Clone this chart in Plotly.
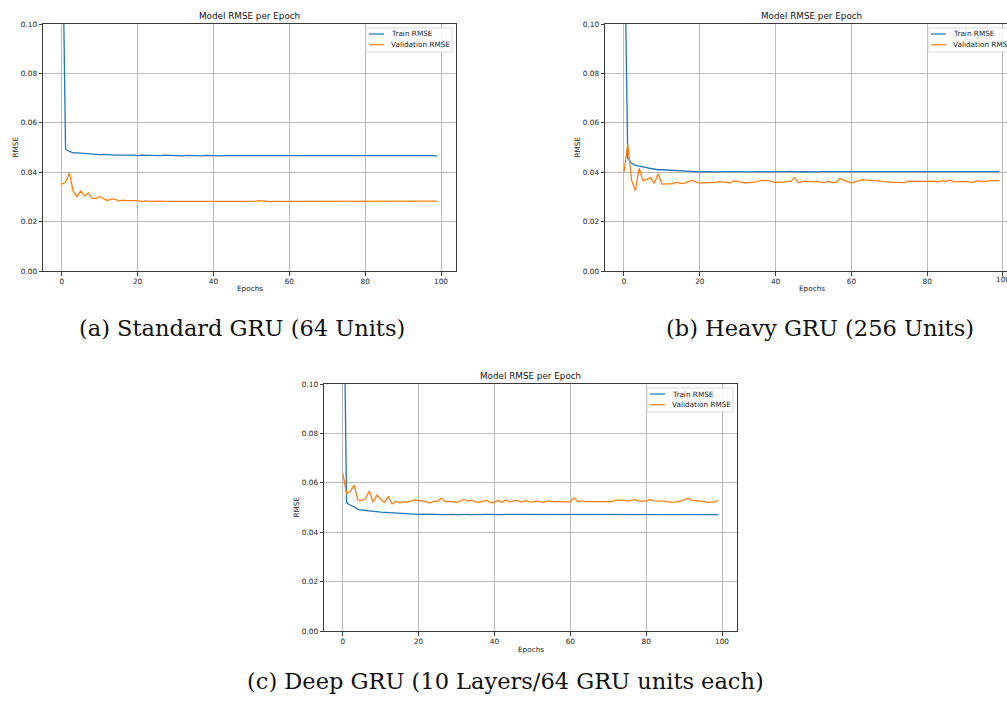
import plotly.graph_objects as go

epochs = list(range(100))

# ---- (a) Standard GRU (64 Units) ----
train_a = [0.160, 0.0493, 0.0484, 0.0478, 0.0478, 0.0477, 0.0474, 0.0473, 0.0471, 0.0473,
           0.0471, 0.0472, 0.0470, 0.0471, 0.0469, 0.0469, 0.0470, 0.0468, 0.0469, 0.0469,
           0.0467, 0.0469, 0.0468, 0.0469, 0.0467, 0.0466, 0.0467, 0.0469, 0.0468, 0.0468,
           0.0467, 0.0468, 0.0466, 0.0468, 0.0467, 0.0468, 0.0467, 0.0466, 0.0468, 0.0467,
           0.0468, 0.0467, 0.0466, 0.0467, 0.0467, 0.0468, 0.0466, 0.0467, 0.0468, 0.0466,
           0.0467, 0.0467, 0.0466, 0.0467, 0.0468, 0.0467, 0.0466, 0.0467, 0.0468, 0.0467,
           0.0466, 0.0467, 0.0468, 0.0467, 0.0467, 0.0466, 0.0467, 0.0467, 0.0466, 0.0467,
           0.0468, 0.0467, 0.0467, 0.0466, 0.0467, 0.0469, 0.0467, 0.0466, 0.0467, 0.0467,
           0.0467, 0.0466, 0.0467, 0.0467, 0.0466, 0.0467, 0.0467, 0.0466, 0.0467, 0.0467,
           0.0466, 0.0467, 0.0467, 0.0466, 0.0467, 0.0467, 0.0466, 0.0467, 0.0467, 0.0465]
val_a = [0.0352, 0.0359, 0.0398, 0.0324, 0.0301, 0.0324, 0.0303, 0.0316, 0.0294, 0.0294,
         0.0302, 0.0293, 0.0285, 0.0291, 0.0291, 0.0283, 0.0287, 0.0285, 0.0286, 0.0285,
         0.0285, 0.0281, 0.0284, 0.0282, 0.0283, 0.0282, 0.0283, 0.0282, 0.0282, 0.0281,
         0.0282, 0.0282, 0.0283, 0.0281, 0.0282, 0.0282, 0.0282, 0.0282, 0.0283, 0.0283,
         0.0284, 0.0282, 0.0283, 0.0282, 0.0283, 0.0281, 0.0282, 0.0282, 0.0281, 0.0281,
         0.0283, 0.0282, 0.0285, 0.0283, 0.0282, 0.0281, 0.0282, 0.0282, 0.0283, 0.0284,
         0.0284, 0.0283, 0.0282, 0.0282, 0.0281, 0.0282, 0.0282, 0.0282, 0.0283, 0.0282,
         0.0282, 0.0283, 0.0282, 0.0282, 0.0282, 0.0283, 0.0282, 0.0282, 0.0282, 0.0282,
         0.0282, 0.0282, 0.0283, 0.0282, 0.0282, 0.0282, 0.0282, 0.0282, 0.0281, 0.0282,
         0.0282, 0.0282, 0.0283, 0.0284, 0.0282, 0.0282, 0.0282, 0.0282, 0.0282, 0.0283]

# ---- (b) Heavy GRU (256 Units) ----
train_b = [0.150, 0.0457, 0.0436, 0.0428, 0.0425, 0.0423, 0.0419, 0.0415, 0.0412, 0.0410,
           0.0410, 0.0409, 0.0407, 0.0406, 0.0405, 0.0404, 0.0405, 0.0403, 0.0402, 0.0402,
           0.0401, 0.0402, 0.0401, 0.0402, 0.0402, 0.0401, 0.0402, 0.0401, 0.0403, 0.0402,
           0.0402, 0.0401, 0.0401, 0.0402, 0.0401, 0.0402, 0.0403, 0.0402, 0.0401, 0.0403,
           0.0402, 0.0402, 0.0401, 0.0402, 0.0403, 0.0401, 0.0401, 0.0402, 0.0401, 0.0402,
           0.0402, 0.0401, 0.0402, 0.0402, 0.0404, 0.0402, 0.0401, 0.0402, 0.0402, 0.0401,
           0.0402, 0.0402, 0.0401, 0.0402, 0.0402, 0.0401, 0.0402, 0.0402, 0.0401, 0.0402,
           0.0403, 0.0402, 0.0402, 0.0401, 0.0402, 0.0402, 0.0401, 0.0402, 0.0404, 0.0402,
           0.0402, 0.0403, 0.0402, 0.0401, 0.0402, 0.0402, 0.0401, 0.0402, 0.0402, 0.0401,
           0.0402, 0.0401, 0.0401, 0.0402, 0.0403, 0.0401, 0.0402, 0.0401, 0.0402, 0.0402]
val_b = [0.0400, 0.0514, 0.0368, 0.0325, 0.0416, 0.0366, 0.0371, 0.0379, 0.0355, 0.0394,
         0.0352, 0.0353, 0.0355, 0.0354, 0.0360, 0.0354, 0.0356, 0.0363, 0.0368, 0.0360,
         0.0356, 0.0357, 0.0357, 0.0360, 0.0359, 0.0362, 0.0362, 0.0359, 0.0357, 0.0365,
         0.0363, 0.0358, 0.0356, 0.0358, 0.0359, 0.0361, 0.0366, 0.0366, 0.0367, 0.0362,
         0.0358, 0.0361, 0.0359, 0.0363, 0.0363, 0.0378, 0.0357, 0.0362, 0.0364, 0.0362,
         0.0363, 0.0362, 0.0360, 0.0358, 0.0364, 0.0358, 0.0360, 0.0374, 0.0368, 0.0362,
         0.0356, 0.0362, 0.0366, 0.0370, 0.0368, 0.0366, 0.0364, 0.0365, 0.0363, 0.0361,
         0.0358, 0.0359, 0.0359, 0.0360, 0.0358, 0.0364, 0.0363, 0.0363, 0.0364, 0.0363,
         0.0363, 0.0365, 0.0364, 0.0361, 0.0366, 0.0363, 0.0369, 0.0361, 0.0362, 0.0365,
         0.0363, 0.0361, 0.0359, 0.0365, 0.0363, 0.0362, 0.0365, 0.0365, 0.0364, 0.0366]

# ---- (c) Deep GRU (10 Layers/64 GRU units each) ----
train_c = [0.175, 0.0519, 0.0509, 0.0504, 0.0491, 0.0489, 0.0488, 0.0486, 0.0484, 0.0483,
           0.0481, 0.0480, 0.0479, 0.0479, 0.0478, 0.0477, 0.0477, 0.0476, 0.0474, 0.0473,
           0.0472, 0.0473, 0.0472, 0.0472, 0.0473, 0.0472, 0.0471, 0.0472, 0.0471, 0.0472,
           0.0471, 0.0472, 0.0471, 0.0472, 0.0471, 0.0472, 0.0471, 0.0471, 0.0472, 0.0472,
           0.0471, 0.0472, 0.0471, 0.0472, 0.0472, 0.0471, 0.0472, 0.0471, 0.0471, 0.0472,
           0.0472, 0.0471, 0.0472, 0.0471, 0.0471, 0.0472, 0.0472, 0.0471, 0.0472, 0.0471,
           0.0472, 0.0472, 0.0471, 0.0472, 0.0472, 0.0471, 0.0472, 0.0474, 0.0472, 0.0471,
           0.0472, 0.0472, 0.0474, 0.0472, 0.0471, 0.0472, 0.0472, 0.0474, 0.0472, 0.0471,
           0.0472, 0.0471, 0.0472, 0.0472, 0.0471, 0.0472, 0.0471, 0.0472, 0.0472, 0.0471,
           0.0472, 0.0472, 0.0471, 0.0472, 0.0471, 0.0472, 0.0473, 0.0471, 0.0472, 0.0471]
val_c = [0.0638, 0.0557, 0.0566, 0.0590, 0.0530, 0.0528, 0.0536, 0.0567, 0.0521, 0.0550,
         0.0534, 0.0520, 0.0545, 0.0514, 0.0525, 0.0519, 0.0524, 0.0522, 0.0526, 0.0532,
         0.0527, 0.0528, 0.0523, 0.0518, 0.0526, 0.0525, 0.0537, 0.0524, 0.0524, 0.0524,
         0.0520, 0.0527, 0.0533, 0.0526, 0.0530, 0.0523, 0.0521, 0.0526, 0.0529, 0.0520,
         0.0520, 0.0529, 0.0521, 0.0530, 0.0523, 0.0527, 0.0529, 0.0522, 0.0528, 0.0524,
         0.0522, 0.0526, 0.0525, 0.0521, 0.0527, 0.0525, 0.0523, 0.0525, 0.0522, 0.0522,
         0.0524, 0.0539, 0.0523, 0.0527, 0.0524, 0.0524, 0.0526, 0.0527, 0.0525, 0.0524,
         0.0526, 0.0524, 0.0530, 0.0530, 0.0530, 0.0526, 0.0529, 0.0532, 0.0527, 0.0525,
         0.0527, 0.0532, 0.0527, 0.0527, 0.0527, 0.0526, 0.0522, 0.0521, 0.0523, 0.0526,
         0.0530, 0.0537, 0.0529, 0.0528, 0.0529, 0.0525, 0.0521, 0.0523, 0.0523, 0.0529]

series_names = ["Train RMSE", "Validation RMSE"]
chart_title = "Model RMSE per Epoch"
x_label = "Epochs"
y_label = "RMSE"
captions = ["(a) Standard GRU (64 Units)", "(b) Heavy GRU (256 Units)",
            "(c) Deep GRU (10 Layers/64 GRU units each)"]
x_ticks = [0, 20, 40, 60, 80, 100]
y_ticks = [0.00, 0.02, 0.04, 0.06, 0.08, 0.10]

BLUE = "#1f77b4"
ORANGE = "#ff7f0e"
W, H = 1007, 701


def px(x):
    return x / W


def py(y):
    return 1 - y / H


# panel geometry in pixels: left, right(visible), top, bottom, x-range, full right (for legend)
panels = [
    dict(l=43, r=456, t=24, b=271, xr=[-4.95, 103.95], fullr=456, mirror_y=True,
         cap_x=242, cap_y=328, data=(train_a, val_a)),
    dict(l=605, r=1007, t=24, b=271, xr=[-5.01, 101.06], fullr=1018, mirror_y=False,
         cap_x=820, cap_y=328, data=(train_b, val_b)),
    dict(l=324, r=737, t=384, b=631, xr=[-4.95, 103.95], fullr=737, mirror_y=True,
         cap_x=505, cap_y=681, data=(train_c, val_c)),
]

fig = go.Figure()
annotations = []
shapes = []
TICKF = dict(family="DejaVu Sans", size=7.3, color="#222")
SPINE = "#3a3a3a"

for i, p in enumerate(panels):
    n = "" if i == 0 else str(i + 1)
    tr, va = p["data"]
    fig.add_trace(go.Scatter(x=epochs, y=tr, mode="lines", name=series_names[0],
                             line=dict(color=BLUE, width=1.3), showlegend=False,
                             xaxis="x" + n, yaxis="y" + n))
    fig.add_trace(go.Scatter(x=epochs, y=va, mode="lines", name=series_names[1],
                             line=dict(color=ORANGE, width=1.3), showlegend=False,
                             xaxis="x" + n, yaxis="y" + n))
    xa = dict(domain=[px(p["l"]), min(1.0, px(p["r"]))], range=p["xr"], anchor="y" + n,
              tickvals=x_ticks, ticktext=[str(v) for v in x_ticks],
              showgrid=True, gridcolor="#b9b9b9", gridwidth=0.7, zeroline=False,
              showline=True, linecolor=SPINE, linewidth=1, mirror=True,
              ticks="outside", ticklen=3.5, tickwidth=0.8, tickcolor=SPINE,
              tickfont=TICKF, fixedrange=True)
    ya = dict(domain=[py(p["b"]), py(p["t"])], range=[0, 0.1], anchor="x" + n,
              tickvals=y_ticks, ticktext=["%.2f" % v for v in y_ticks],
              showgrid=True, gridcolor="#b9b9b9", gridwidth=0.7, zeroline=False,
              showline=True, linecolor=SPINE, linewidth=1, mirror=p["mirror_y"],
              ticks="outside", ticklen=3.5, tickwidth=0.8, tickcolor=SPINE,
              tickfont=TICKF, fixedrange=True)
    fig.update_layout(**{"xaxis" + n: xa, "yaxis" + n: ya})

    cx = (p["l"] + p["fullr"]) / 2
    cy = (p["t"] + p["b"]) / 2
    # title
    annotations.append(dict(x=px(cx), y=py(p["t"] - 8), xref="paper", yref="paper",
                            text=chart_title, showarrow=False, xanchor="center",
                            yanchor="middle", font=dict(family="DejaVu Sans", size=8.8,
                                                        color="#111")))
    # x label
    annotations.append(dict(x=px(cx), y=py(p["b"] + 18), xref="paper", yref="paper",
                            text=x_label, showarrow=False, xanchor="center",
                            yanchor="middle", font=dict(family="DejaVu Sans", size=7.3,
                                                        color="#222")))
    # y label
    annotations.append(dict(x=px(p["l"] - 28), y=py(cy), xref="paper", yref="paper",
                            text=y_label, showarrow=False, textangle=-90,
                            xanchor="center", yanchor="middle",
                            font=dict(family="DejaVu Sans", size=7.3, color="#222")))
    # caption
    annotations.append(dict(x=px(p["cap_x"]), y=py(p["cap_y"]), xref="paper", yref="paper",
                            text=captions[i], showarrow=False, xanchor="center",
                            yanchor="middle", font=dict(family="DejaVu Serif", size=22.5,
                                                        color="#111")))
    # legend box (matplotlib style)
    lr = p["fullr"] - 4
    ll = lr - 86
    lt = p["t"] + 4
    lb = lt + 24
    shapes.append(dict(type="rect", xref="paper", yref="paper",
                       x0=px(ll), x1=px(lr), y0=py(lb), y1=py(lt),
                       line=dict(color="#d0d0d0", width=0.8),
                       fillcolor="rgba(255,255,255,0.85)", layer="above"))
    for k, (col, name) in enumerate(zip([BLUE, ORANGE], series_names)):
        ry = lt + 6 + k * 10.7
        shapes.append(dict(type="line", xref="paper", yref="paper",
                           x0=px(ll + 3), x1=px(ll + 18), y0=py(ry), y1=py(ry),
                           line=dict(color=col, width=1.2), layer="above"))
        annotations.append(dict(x=px(ll + 23), y=py(ry), xref="paper", yref="paper",
                                text=name, showarrow=False, xanchor="left",
                                yanchor="middle",
                                font=dict(family="DejaVu Sans", size=7.3, color="#222")))

# last x tick label of panel (b), partly cut by the page edge as in the reference
annotations.append(dict(x=x_ticks[-1], xref="x2", y=py(panels[1]["b"] + 8), yref="paper",
                        text=str(x_ticks[-1]), showarrow=False, xanchor="center",
                        yanchor="middle", font=TICKF))

fig.update_layout(width=W, height=H, margin=dict(l=0, r=0, t=0, b=0, autoexpand=False),
                  paper_bgcolor="white", plot_bgcolor="white", showlegend=False,
                  annotations=annotations, shapes=shapes)

fig.write_html("out.html", config={"displayModeBar": False},
               post_script="document.body.style.margin='0';document.body.style.padding='0';"
                           "document.body.style.overflow='hidden';")
